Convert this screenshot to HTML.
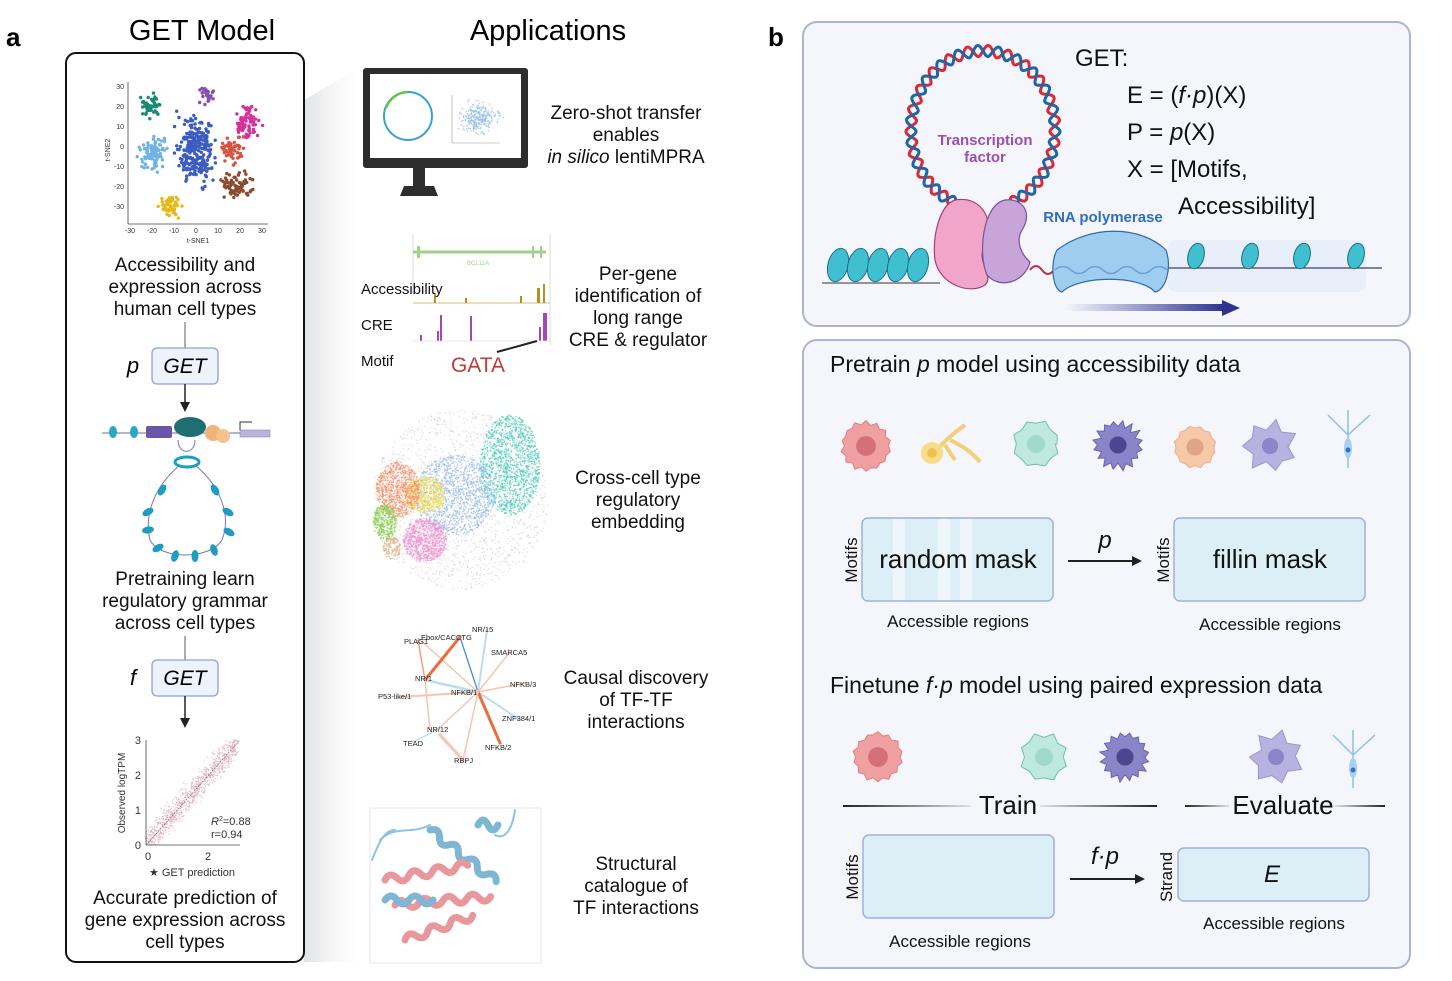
<!DOCTYPE html>
<html><head><meta charset="utf-8"><style>
html,body{margin:0;padding:0;background:#fff;}
svg{display:block;}
.n{font-family:"Liberation Sans Narrow","Liberation Sans",sans-serif;}
.s{font-family:"Liberation Sans",sans-serif;}
</style></head><body>
<svg id="sv" width="1452" height="981" viewBox="0 0 1452 981" xmlns="http://www.w3.org/2000/svg">
<defs>
<linearGradient id="wedge" x1="0" x2="1" y1="0" y2="0"><stop offset="0" stop-color="#d9dadd"/><stop offset="1" stop-color="#ffffff" stop-opacity="0"/></linearGradient>
<linearGradient id="arr" x1="0" x2="1"><stop offset="0" stop-color="#3b3f9a" stop-opacity="0"/><stop offset="1" stop-color="#2f3390"/></linearGradient>
<linearGradient id="ln1" x1="0" x2="1"><stop offset="0" stop-color="#222"/><stop offset="1" stop-color="#222" stop-opacity="0.1"/></linearGradient>
<linearGradient id="ln2" x1="0" x2="1"><stop offset="0" stop-color="#222" stop-opacity="0.1"/><stop offset="1" stop-color="#222"/></linearGradient>
<marker id="ah" markerWidth="10" markerHeight="10" refX="8" refY="5" orient="auto" markerUnits="userSpaceOnUse"><path d="M0,0 L10,5 L0,10 z" fill="#222"/></marker>
</defs>

<polygon points="304,100 370,62 370,962 304,962" fill="url(#wedge)" opacity="0.8"/>

<text x="6" y="46" class="s" font-size="26" font-weight="bold">a</text>
<text x="202" y="40" class="n" font-size="29" text-anchor="middle">GET Model</text>
<text x="548" y="40" class="n" font-size="29" text-anchor="middle">Applications</text>

<rect x="66" y="53" width="238" height="909" rx="10" fill="none" stroke="#111" stroke-width="2"/>

<g class="n" font-size="7" fill="#333">
<line x1="128" y1="82" x2="128" y2="224" stroke="#444" stroke-width="0.8"/>
<line x1="128" y1="224" x2="268" y2="224" stroke="#444" stroke-width="0.8"/>
<text x="124" y="89" text-anchor="end">30</text><text x="124" y="109" text-anchor="end">20</text><text x="124" y="129" text-anchor="end">10</text><text x="124" y="149" text-anchor="end">0</text><text x="124" y="169" text-anchor="end">-10</text><text x="124" y="189" text-anchor="end">-20</text><text x="124" y="209" text-anchor="end">-30</text>
<text x="130" y="233" text-anchor="middle">-30</text><text x="152" y="233" text-anchor="middle">-20</text><text x="174" y="233" text-anchor="middle">-10</text><text x="196" y="233" text-anchor="middle">0</text><text x="218" y="233" text-anchor="middle">10</text><text x="240" y="233" text-anchor="middle">20</text><text x="262" y="233" text-anchor="middle">30</text>
<text x="198" y="243" text-anchor="middle">t-SNE1</text>
<text x="110" y="150" text-anchor="middle" transform="rotate(-90 110 150)">t-SNE2</text>
</g>
<g id="tsne"></g>

<g class="n" font-size="19" text-anchor="middle" fill="#111">
<text x="185" y="271">Accessibility and</text><text x="185" y="293">expression across</text><text x="185" y="315">human cell types</text>
<text x="185" y="585">Pretraining learn</text><text x="185" y="607">regulatory grammar</text><text x="185" y="629">across cell types</text>
<text x="185" y="904">Accurate prediction of</text><text x="185" y="926">gene expression across</text><text x="185" y="948">cell types</text>
</g>

<line x1="185" y1="322" x2="185" y2="348" stroke="#777" stroke-width="1.2"/>
<rect x="152" y="348" width="66" height="36" rx="5" fill="#eef2fb" stroke="#8f9fd0" stroke-width="1.3"/>
<text x="185" y="373" class="n" font-size="21" font-style="italic" text-anchor="middle">GET</text>
<text x="133" y="373" class="n" font-size="22" font-style="italic" text-anchor="middle">p</text>
<line x1="185" y1="384" x2="185" y2="410" stroke="#222" stroke-width="1.5" marker-end="url(#ah)"/>

<g>
<line x1="102" y1="433" x2="270" y2="433" stroke="#6a6aa0" stroke-width="1"/>
<rect x="240" y="430" width="30" height="7" fill="#b9b3dd" stroke="#8a86c0" stroke-width="0.6"/>
<path d="M240,430 v-8 h12" stroke="#333" fill="none" stroke-width="1"/>
<ellipse cx="113" cy="432" rx="4" ry="6" fill="#2aa6c8"/><ellipse cx="134" cy="432" rx="4" ry="6" fill="#2aa6c8"/>
<rect x="146" y="426" width="26" height="12" rx="2" fill="#6a56a8"/>
<ellipse cx="190" cy="427" rx="16" ry="10" fill="#1f6f72"/>
<circle cx="213" cy="433" r="8" fill="#f3b27a"/><circle cx="223" cy="436" r="7" fill="#f5c28f"/>
<path d="M178,440 C178,455 195,455 195,440" fill="none" stroke="#7a76b0"/>
<ellipse cx="187" cy="462" rx="12" ry="5" fill="none" stroke="#1aa2c6" stroke-width="3"/>
<path d="M180,465 C150,490 145,520 150,540 C160,560 210,560 222,540 C230,520 225,490 195,465" fill="none" stroke="#7a76b0" stroke-width="1"/>
<g fill="#1f9cc2">
<ellipse cx="162" cy="490" rx="3.5" ry="6" transform="rotate(30 162 490)"/><ellipse cx="215" cy="490" rx="3.5" ry="6" transform="rotate(-30 215 490)"/>
<ellipse cx="148" cy="512" rx="3.5" ry="6" transform="rotate(60 148 512)"/><ellipse cx="228" cy="512" rx="3.5" ry="6" transform="rotate(-60 228 512)"/>
<ellipse cx="148" cy="530" rx="3.5" ry="6" transform="rotate(80 148 530)"/><ellipse cx="229" cy="532" rx="3.5" ry="6" transform="rotate(-60 229 532)"/>
<ellipse cx="158" cy="548" rx="3.5" ry="6" transform="rotate(60 158 548)"/><ellipse cx="214" cy="550" rx="3.5" ry="6" transform="rotate(-20 214 550)"/>
<ellipse cx="175" cy="556" rx="3.5" ry="6" transform="rotate(20 175 556)"/><ellipse cx="195" cy="556" rx="3.5" ry="6"/>
</g>
</g>

<line x1="185" y1="636" x2="185" y2="660" stroke="#777" stroke-width="1.2"/>
<rect x="152" y="660" width="66" height="36" rx="5" fill="#eef2fb" stroke="#8f9fd0" stroke-width="1.3"/>
<text x="185" y="685" class="n" font-size="21" font-style="italic" text-anchor="middle">GET</text>
<text x="133" y="685" class="n" font-size="22" font-style="italic" text-anchor="middle">f</text>
<line x1="185" y1="696" x2="185" y2="726" stroke="#222" stroke-width="1.5" marker-end="url(#ah)"/>

<g id="scat"></g>
<g class="n" font-size="11" fill="#333">
<line x1="146" y1="740" x2="146" y2="845" stroke="#444" stroke-width="0.8"/>
<line x1="146" y1="845" x2="240" y2="845" stroke="#444" stroke-width="0.8"/>
<line x1="146" y1="845" x2="240" y2="740" stroke="#666" stroke-width="0.6" stroke-dasharray="2,1"/>
<text x="141" y="744" text-anchor="end">3</text><text x="141" y="779" text-anchor="end">2</text><text x="141" y="814" text-anchor="end">1</text><text x="141" y="849" text-anchor="end">0</text>
<text x="148" y="860" text-anchor="middle">0</text><text x="208" y="860" text-anchor="middle">2</text>
<text x="125" y="793" text-anchor="middle" font-size="10" class="s" transform="rotate(-90 125 793)">Observed logTPM</text>
<text x="211" y="825" font-style="italic">R<tspan font-size="7" dy="-4" font-style="normal">2</tspan><tspan dy="4" font-style="normal">=0.88</tspan></text>
<text x="211" y="838">r=0.94</text>
<text x="192" y="876" text-anchor="middle" font-size="11">★ GET prediction</text>
</g>

<rect x="363" y="68" width="165" height="100" rx="3" fill="#2d2d2d"/>
<rect x="370" y="74" width="151" height="84" fill="#fff"/>
<rect x="413" y="168" width="12" height="18" fill="#2d2d2d"/>
<path d="M400,196 L404,186 L434,186 L438,196 z" fill="#2d2d2d"/>
<circle cx="408" cy="116" r="24" fill="none" stroke="#3a9fd6" stroke-width="2"/>
<path d="M386,108 A24,24 0 0 1 408,92" fill="none" stroke="#6cc24a" stroke-width="2.5"/>
<line x1="452" y1="95" x2="452" y2="143" stroke="#999" stroke-width="0.6"/><line x1="452" y1="143" x2="500" y2="143" stroke="#999" stroke-width="0.6"/>
<g id="mon"></g>
<g class="n" font-size="19" text-anchor="middle" fill="#111">
<text x="626" y="119">Zero-shot transfer</text><text x="626" y="141">enables</text><text x="626" y="163"><tspan font-style="italic">in silico</tspan> lentiMPRA</text>
<text x="638" y="280">Per-gene</text><text x="638" y="302">identification of</text><text x="638" y="324">long range</text><text x="638" y="346">CRE &amp; regulator</text>
<text x="638" y="484">Cross-cell type</text><text x="638" y="506">regulatory</text><text x="638" y="528">embedding</text>
<text x="636" y="684">Causal discovery</text><text x="636" y="706">of TF-TF</text><text x="636" y="728">interactions</text>
<text x="636" y="870">Structural</text><text x="636" y="892">catalogue of</text><text x="636" y="914">TF interactions</text>
</g>

<line x1="413" y1="234" x2="413" y2="296" stroke="#ccc" stroke-width="0.7"/>
<line x1="550" y1="234" x2="550" y2="345" stroke="#ccc" stroke-width="0.7"/>
<line x1="413" y1="252" x2="546" y2="252" stroke="#9ed28a" stroke-width="3"/>
<rect x="417" y="246" width="3" height="12" fill="#9ed28a"/><rect x="532" y="246" width="2" height="12" fill="#9ed28a"/><rect x="540" y="246" width="2" height="12" fill="#9ed28a"/>
<text x="478" y="265" class="s" font-size="6" fill="#9ed28a" text-anchor="middle">BCL11A</text>
<line x1="413" y1="303" x2="550" y2="303" stroke="#c9a85a" stroke-width="0.8"/>
<g fill="#b7901e"><rect x="434" y="293" width="2" height="10"/><rect x="465" y="298" width="2" height="5"/><rect x="520" y="296" width="2" height="7"/><rect x="537" y="288" width="3" height="15"/><rect x="543" y="284" width="2" height="19"/></g>
<g fill="#a347b5"><rect x="420" y="335" width="2" height="6"/><rect x="440" y="315" width="2" height="26"/><rect x="437" y="331" width="2" height="10"/><rect x="470" y="316" width="2" height="25"/><rect x="539" y="327" width="2" height="14"/><rect x="543" y="313" width="4" height="28"/></g>
<line x1="413" y1="341" x2="550" y2="341" stroke="#ddd" stroke-width="0.7"/>
<line x1="497" y1="352" x2="537" y2="341" stroke="#222" stroke-width="2"/>
<g class="n" font-size="15" fill="#111"><text x="361" y="294">Accessibility</text><text x="361" y="330">CRE</text><text x="361" y="366">Motif</text></g>
<text x="478" y="372" class="n" font-size="21" fill="#c23b3b" text-anchor="middle">GATA</text>

<g id="emb"></g>

<g stroke-linecap="round">
<line x1="478" y1="692" x2="460" y2="637" stroke="#4a8fd0" stroke-width="1.3"/>
<line x1="478" y1="692" x2="487" y2="630" stroke="#bcdcef" stroke-width="2"/>
<line x1="478" y1="692" x2="510" y2="652" stroke="#f6c5ae" stroke-width="1.5"/>
<line x1="478" y1="692" x2="525" y2="683" stroke="#f6c5ae" stroke-width="1.5"/>
<line x1="478" y1="692" x2="520" y2="720" stroke="#bcdcef" stroke-width="2"/>
<line x1="478" y1="692" x2="500" y2="743" stroke="#ea6d3c" stroke-width="3"/>
<line x1="478" y1="692" x2="400" y2="697" stroke="#f6c5ae" stroke-width="2"/>
<line x1="478" y1="692" x2="425" y2="680" stroke="#bcdcef" stroke-width="2.5"/>
<line x1="478" y1="692" x2="437" y2="730" stroke="#f6c5ae" stroke-width="1.5"/>
<line x1="478" y1="692" x2="463" y2="760" stroke="#f6c5ae" stroke-width="1.5"/>
<line x1="478" y1="692" x2="418" y2="638" stroke="#f6c5ae" stroke-width="1.5"/>
<line x1="425" y1="680" x2="460" y2="637" stroke="#ea6d3c" stroke-width="3"/>
<line x1="425" y1="680" x2="418" y2="640" stroke="#f0a07a" stroke-width="1.5"/>
<line x1="425" y1="680" x2="430" y2="730" stroke="#f6c5ae" stroke-width="1.5"/>
<line x1="437" y1="730" x2="413" y2="742" stroke="#bcdcef" stroke-width="1.5"/>
<line x1="440" y1="735" x2="463" y2="760" stroke="#f6c5ae" stroke-width="3"/>
</g>
<g class="s" font-size="7.5" fill="#222">
<text x="404" y="644">PLAG1</text><text x="421" y="640">Ebox/CACCTG</text><text x="472" y="632">NR/15</text>
<text x="491" y="655">SMARCA5</text><text x="510" y="687">NFKB/3</text><text x="451" y="695">NFKB/1</text>
<text x="415" y="681">NR/1</text><text x="378" y="699">P53-like/1</text><text x="502" y="721">ZNF384/1</text>
<text x="427" y="732">NR/12</text><text x="403" y="746">TEAD</text><text x="485" y="750">NFKB/2</text><text x="454" y="763">RBPJ</text>
</g>

<rect x="370" y="808" width="171" height="155" fill="#fff" stroke="#ddd" stroke-width="0.7"/>
<g fill="none" stroke-width="7" stroke-linecap="round">
<path d="M380,840 C395,825 410,835 430,825" stroke="#8ec3df" stroke-width="2"/>
<path d="M430,830 q6,-8 12,0 q6,8 12,0 q6,-8 12,0 q6,8 12,0 q6,-8 12,0 q6,8 12,0 q6,-8 12,0" stroke="#7fb6d3" transform="rotate(38 430 830)"/>
<path d="M385,880 q6,-8 12,0 q6,8 12,0 q6,-8 12,0 q6,8 12,0 q6,-8 12,0 q6,8 12,0 q6,-8 12,0" stroke="#e8989c" transform="rotate(-10 385 880)"/>
<path d="M395,905 q6,-8 12,0 q6,8 12,0 q6,-8 12,0 q6,8 12,0 q6,-8 12,0 q6,8 12,0 q6,-8 12,0 q6,8 12,0" stroke="#e8989c" transform="rotate(-5 395 905)"/>
<path d="M405,940 q6,-8 12,0 q6,8 12,0 q6,-8 12,0 q6,8 12,0 q6,-8 12,0 q6,8 12,0" stroke="#e8989c" transform="rotate(-20 405 940)"/>
<path d="M385,900 q6,-8 12,0 q6,8 12,0 q6,-8 12,0 q6,8 12,0" stroke="#7fb6d3"/>
<path d="M478,825 q5,-10 10,0 q5,10 10,0" stroke="#7fb6d3"/>
<path d="M372,860 C380,840 385,830 395,830" stroke="#8ec3df" stroke-width="2"/>
<path d="M515,810 C512,830 505,840 495,835" stroke="#8ec3df" stroke-width="2"/>
</g>

<text x="768" y="46" class="s" font-size="26" font-weight="bold">b</text>
<rect x="803" y="22" width="607" height="304" rx="14" fill="#f4f6fb" stroke="#aab4d4" stroke-width="2"/>
<rect x="1168" y="240" width="198" height="52" rx="8" fill="#e9eff8"/>
<g id="helix"></g>
<text x="985" y="145" class="s" font-size="15" font-weight="bold" fill="#9b4fb0" text-anchor="middle">Transcription</text>
<text x="985" y="162" class="s" font-size="15" font-weight="bold" fill="#9b4fb0" text-anchor="middle">factor</text>
<line x1="822" y1="283" x2="940" y2="283" stroke="#333" stroke-width="1"/>
<line x1="1165" y1="268" x2="1382" y2="268" stroke="#3a3d6e" stroke-width="1.2"/>
<g fill="#3fbfd0" stroke="#1e6f8a" stroke-width="1">
<ellipse cx="838" cy="265" rx="10" ry="17" transform="rotate(15 838 265)"/><ellipse cx="858" cy="265" rx="10" ry="17" transform="rotate(15 858 265)"/>
<ellipse cx="878" cy="265" rx="10" ry="17" transform="rotate(15 878 265)"/><ellipse cx="898" cy="265" rx="10" ry="17" transform="rotate(15 898 265)"/>
<ellipse cx="918" cy="265" rx="10" ry="17" transform="rotate(15 918 265)"/>
<ellipse cx="1196" cy="256" rx="8" ry="13" transform="rotate(15 1196 256)"/><ellipse cx="1250" cy="256" rx="8" ry="13" transform="rotate(15 1250 256)"/>
<ellipse cx="1302" cy="256" rx="8" ry="13" transform="rotate(15 1302 256)"/><ellipse cx="1356" cy="256" rx="8" ry="13" transform="rotate(15 1356 256)"/>
</g>
<path d="M955,200 C985,195 995,225 985,245 C975,262 995,275 985,285 C970,295 940,285 935,260 C932,235 940,205 955,200 z" fill="#f1a5c8" stroke="#a0407a" stroke-width="1.2"/>
<path d="M1005,200 C1025,198 1032,215 1022,230 C1015,242 1022,255 1030,262 C1025,282 1000,290 987,275 C978,255 982,205 1005,200 z" fill="#c8a5d8" stroke="#7b4fa0" stroke-width="1.2"/>
<path d="M1030,270 q6,-8 12,0 q6,8 12,0" fill="none" stroke="#c03040" stroke-width="2"/>
<path d="M1057,250 C1090,225 1140,225 1166,250 C1172,268 1166,290 1155,292 C1140,275 1080,275 1062,292 C1052,290 1050,262 1057,250 z" fill="#9fcdef" stroke="#2f6aa8" stroke-width="1.2"/>
<path d="M1055,270 q8,-7 16,0 q8,7 16,0 q8,-7 16,0 q8,7 16,0 q8,-7 16,0 q8,7 16,0 q8,-7 16,0" fill="none" stroke="#6f9fd8" stroke-width="1.5"/>
<text x="1103" y="222" class="s" font-size="15" font-weight="bold" fill="#2f6fc0" text-anchor="middle">RNA polymerase</text>
<rect x="1065" y="304" width="158" height="7" fill="url(#arr)"/>
<polygon points="1222,300 1240,308 1222,316" fill="#2f3390"/>
<g class="s" font-size="24" fill="#111">
<text x="1075" y="66">GET:</text>
<text x="1127" y="103">E = (<tspan font-style="italic">f·p</tspan>)(X)</text>
<text x="1127" y="140">P  = <tspan font-style="italic">p</tspan>(X)</text>
<text x="1127" y="177">X = [Motifs,</text>
<text x="1178" y="214">Accessibility]</text>
</g>

<rect x="803" y="340" width="607" height="628" rx="14" fill="#f4f6fb" stroke="#aab4d4" stroke-width="2"/>
<g class="s" font-size="23" fill="#111">
<text x="830" y="372">Pretrain <tspan font-style="italic">p</tspan> model using accessibility data</text>
<text x="830" y="693">Finetune <tspan font-style="italic">f·p</tspan> model using paired expression data</text>
</g>
<g id="cells"></g>

<rect x="862" y="518" width="191" height="83" rx="6" fill="#dcefF7" stroke="#9db1de" stroke-width="1.5"/>
<rect x="893" y="519" width="12" height="81" fill="#eef6fb"/><rect x="938" y="519" width="12" height="81" fill="#eef6fb"/><rect x="960" y="519" width="12" height="81" fill="#eef6fb"/>
<rect x="1174" y="518" width="191" height="83" rx="6" fill="#dcefF7" stroke="#9db1de" stroke-width="1.5"/>
<rect x="863" y="835" width="191" height="83" rx="6" fill="#dcefF7" stroke="#9db1de" stroke-width="1.5"/>
<rect x="1178" y="848" width="191" height="53" rx="6" fill="#dcefF7" stroke="#9db1de" stroke-width="1.5"/>
<g class="s" fill="#111">
<text x="958" y="568" font-size="26" text-anchor="middle">random mask</text>
<text x="1270" y="568" font-size="26" text-anchor="middle">fillin mask</text>
<text x="1272" y="882" font-size="24" font-style="italic" text-anchor="middle">E</text>
<g font-size="17" text-anchor="middle">
<text x="958" y="627">Accessible regions</text><text x="1270" y="630">Accessible regions</text>
<text x="960" y="947">Accessible regions</text><text x="1274" y="929">Accessible regions</text>
</g>
<g font-size="17" text-anchor="middle">
<text transform="translate(857 560) rotate(-90)">Motifs</text>
<text transform="translate(1169 560) rotate(-90)">Motifs</text>
<text transform="translate(858 877) rotate(-90)">Motifs</text>
<text transform="translate(1172 877) rotate(-90)">Strand</text>
</g>
<text x="1105" y="548" font-size="24" font-style="italic" text-anchor="middle">p</text>
<text x="1105" y="864" font-size="24" font-style="italic" text-anchor="middle">f·p</text>
<text x="1008" y="814" font-size="26" text-anchor="middle">Train</text>
<text x="1283" y="814" font-size="26" text-anchor="middle">Evaluate</text>
</g>
<line x1="1068" y1="561" x2="1140" y2="561" stroke="#222" stroke-width="2" marker-end="url(#ah)"/>
<line x1="1070" y1="879" x2="1143" y2="879" stroke="#222" stroke-width="2" marker-end="url(#ah)"/>
<rect x="843" y="805" width="128" height="2" fill="url(#ln1)"/>
<rect x="1040" y="805" width="117" height="2" fill="url(#ln2)"/>
<rect x="1185" y="805" width="44" height="2" fill="url(#ln1)"/>
<rect x="1335" y="805" width="50" height="2" fill="url(#ln2)"/>
</svg>
<script>
var s=12345;function r(){s=(s*16807)%2147483647;return (s-1)/2147483646;}
function g(){return (r()+r()+r()-1.5)/0.75;}
var NS="http://www.w3.org/2000/svg";
function c(p,x,y,rad,fill,op){var e=document.createElementNS(NS,"circle");e.setAttribute("cx",x.toFixed(1));e.setAttribute("cy",y.toFixed(1));e.setAttribute("r",rad);e.setAttribute("fill",fill);if(op)e.setAttribute("opacity",op);p.appendChild(e);}
var t=document.getElementById("tsne");
[[150,108,7,8,"#1a8a72",50],[207,95,5,6,"#8a4db0",30],[247,122,9,12,"#d6309a",80],[232,148,7,10,"#d95240",50],[152,155,9,13,"#6fb2e6",90],[195,150,13,24,"#3b5cc0",240],[235,185,13,8,"#8a4a30",70],[170,207,8,7,"#e8b818",50]].forEach(function(k){for(var i=0;i<k[5];i++)c(t,k[0]+g()*k[2],k[1]+g()*k[3],1.7,k[4]);});
var m=document.getElementById("mon");for(var i=0;i<300;i++)c(m,475+g()*12+r()*8,125+g()*8-r()*15,0.8,"#8fbde8",0.7);
var sc=document.getElementById("scat");for(var i=0;i<1100;i++){var u=r();var x=146+u*92;var y=845-u*103+g()*11;if(y<740||y>845)continue;c(sc,x,y,0.7,"#d89ab0",0.5);}
var em=document.getElementById("emb");
function blob(cx,cy,rx,ry,col,n,rad,op){for(var i=0;i<n;i++){var a=r()*6.283,d=Math.sqrt(r());c(em,cx+Math.cos(a)*d*rx,cy+Math.sin(a)*d*ry,rad,col,op);}}
blob(460,500,88,90,"#c8c8c8",1500,0.7,0.6);
blob(510,465,30,50,"#3cc9b5",1400,0.8,0.6);
blob(455,495,40,40,"#8fb5e6",1300,0.8,0.6);
blob(425,495,20,18,"#f7e04a",500,0.8,0.7);
blob(398,490,22,28,"#f58a60",900,0.8,0.6);
blob(385,522,12,18,"#8fd058",400,0.8,0.7);
blob(425,540,22,22,"#ef8fcf",900,0.8,0.6);
blob(392,548,9,11,"#e0b58a",150,0.8,0.7);
var h=document.getElementById("helix");
(function(){var cx=983,cy=130,R=72;var a0=Math.PI*0.62,a1=Math.PI*2.38;var p1="",p2="";for(var i=0;i<=400;i++){var a=a0+(a1-a0)*i/400;var w=Math.sin(i/400*Math.PI*2*20)*5;var x1=cx+(R+w)*Math.cos(a),y1=cy+(R+w)*Math.sin(a)*1.1;var x2=cx+(R-w)*Math.cos(a),y2=cy+(R-w)*Math.sin(a)*1.1;p1+=(i?"L":"M")+x1.toFixed(1)+","+y1.toFixed(1);p2+=(i?"L":"M")+x2.toFixed(1)+","+y2.toFixed(1);}
[[p1,"#d62b3a"],[p2,"#1f66a8"]].forEach(function(q){var e=document.createElementNS(NS,"path");e.setAttribute("d",q[0]);e.setAttribute("fill","none");e.setAttribute("stroke",q[1]);e.setAttribute("stroke-width","3");h.appendChild(e);});})();
var ce=document.getElementById("cells");
function spiky(x,y,rad,fill,stroke,n,amp){var d="";for(var i=0;i<=n*2;i++){var a=i/(n*2)*6.283;var rr=rad+(i%2?amp:0)+ (r()-0.5)*amp*0.5;d+=(i?"L":"M")+(x+Math.cos(a)*rr).toFixed(1)+","+(y+Math.sin(a)*rr).toFixed(1);}var e=document.createElementNS(NS,"path");e.setAttribute("d",d+"z");e.setAttribute("fill",fill);e.setAttribute("stroke",stroke);e.setAttribute("stroke-width","1");ce.appendChild(e);}
function cell(x,y,rad,fill,nuc,stroke,n,amp){spiky(x,y,rad,fill,stroke,n,amp);c(ce,x,y,rad*0.45,nuc);}
[[866,446,22,"#f0a0a0","#d47078","#e08080",14,3],[1036,444,20,"#bfe8df","#9fd8cc","#6fc0b0",8,4],[1118,445,19,"#8a84c8","#4a4690","#6a64b0",16,6],[1195,447,19,"#f6c8a8","#e0a488","#e8b090",12,2],[1270,446,18,"#b8b2e0","#8c86c8","#9c96d0",7,9],[878,757,22,"#f0a0a0","#d47078","#e08080",14,3],[1044,757,20,"#bfe8df","#9fd8cc","#6fc0b0",8,4],[1125,757,19,"#8a84c8","#4a4690","#6a64b0",16,6],[1276,757,18,"#b8b2e0","#8c86c8","#9c96d0",7,9]].forEach(function(k){cell.apply(null,k);});
(function(){var e=document.createElementNS(NS,"path");e.setAttribute("d","M935,452 C945,440 955,432 965,425 M950,440 C960,445 970,450 980,462 M945,445 L955,460");e.setAttribute("stroke","#f2cf78");e.setAttribute("stroke-width","4");e.setAttribute("fill","none");ce.appendChild(e);c(ce,932,453,11,"#f8dc88");c(ce,932,453,5,"#f0c050");})();
[[1348,440],[1353,760]].forEach(function(p){var e=document.createElementNS(NS,"path");e.setAttribute("d","M"+p[0]+","+(p[1]+28)+" V"+(p[1]-5)+" L"+(p[0]-20)+","+(p[1]-25)+" M"+p[0]+","+(p[1]-5)+" L"+(p[0]+22)+","+(p[1]-25)+" M"+p[0]+","+(p[1]-5)+" V"+(p[1]-30));e.setAttribute("stroke","#8cc0e8");e.setAttribute("stroke-width","1.5");e.setAttribute("fill","none");ce.appendChild(e);var b=document.createElementNS(NS,"ellipse");b.setAttribute("cx",p[0]);b.setAttribute("cy",p[1]+8);b.setAttribute("rx",4);b.setAttribute("ry",10);b.setAttribute("fill","#a8d0f0");ce.appendChild(b);c(ce,p[0],p[1]+10,2.5,"#3a70c0");});
</script>
</body></html>
